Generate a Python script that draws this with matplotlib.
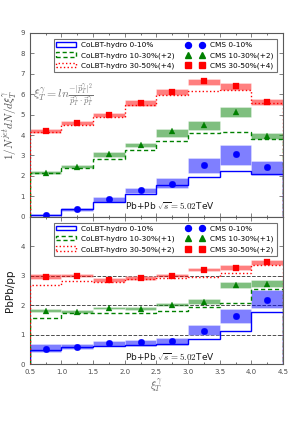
import numpy as np
import matplotlib
matplotlib.use("Agg")
import matplotlib.pyplot as plt
from matplotlib.lines import Line2D
from matplotlib.patches import Patch

plt.rcParams["mathtext.fontset"] = "cm"

edges = np.arange(0.5, 4.51, 0.5)
centers = 0.5 * (edges[:-1] + edges[1:])

# top panel: 1/N dN/dxi (offsets already added)
top_cms_0010 = [0.10, 0.36, 0.85, 1.30, 1.62, 2.55, 3.05, 2.42]
top_cms_0010_lo = [0.05, 0.30, 0.72, 1.15, 1.42, 2.16, 2.55, 2.06]
top_cms_0010_hi = [0.15, 0.42, 0.97, 1.43, 1.90, 2.90, 3.53, 2.74]
top_cms_1030 = [2.15, 2.45, 3.05, 3.50, 4.20, 4.50, 5.15, 3.95]
top_cms_1030_lo = [2.08, 2.38, 2.95, 3.40, 3.92, 4.25, 4.90, 3.80]
top_cms_1030_hi = [2.22, 2.52, 3.15, 3.60, 4.31, 4.70, 5.39, 4.10]
top_cms_3050 = [4.20, 4.60, 4.98, 5.55, 6.10, 6.65, 6.40, 5.60]
top_cms_3050_lo = [4.12, 4.50, 4.88, 5.42, 5.95, 6.47, 6.20, 5.48]
top_cms_3050_hi = [4.28, 4.70, 5.08, 5.70, 6.25, 6.76, 6.55, 5.75]
top_colbt_0010 = [0.10, 0.38, 0.72, 1.10, 1.55, 1.95, 2.25, 2.08]
top_colbt_1030 = [2.15, 2.40, 2.85, 3.25, 3.70, 4.10, 4.15, 3.80]
top_colbt_3050 = [4.15, 4.50, 4.90, 5.45, 5.95, 6.15, 6.20, 5.55]

# bottom panel: PbPb/pp ratio (offsets already added)
bot_cms_0010 = [0.53, 0.58, 0.73, 0.75, 0.77, 1.13, 1.63, 2.18]
bot_cms_0010_lo = [0.42, 0.50, 0.62, 0.62, 0.65, 0.98, 1.40, 1.92]
bot_cms_0010_hi = [0.67, 0.68, 0.80, 0.82, 0.88, 1.32, 1.87, 2.50]
bot_cms_1030 = [1.82, 1.78, 1.90, 1.88, 2.02, 2.10, 2.68, 2.72]
bot_cms_1030_lo = [1.76, 1.73, 1.87, 1.84, 1.98, 2.05, 2.60, 2.63]
bot_cms_1030_hi = [1.88, 1.85, 1.95, 1.94, 2.07, 2.20, 2.80, 2.87]
bot_cms_3050 = [2.95, 3.00, 2.85, 2.92, 3.00, 3.20, 3.27, 3.45]
bot_cms_3050_lo = [2.88, 2.95, 2.78, 2.87, 2.95, 3.17, 3.20, 3.38]
bot_cms_3050_hi = [3.05, 3.05, 2.92, 2.98, 3.05, 3.25, 3.35, 3.55]
bot_colbt_0010 = [0.47, 0.57, 0.60, 0.65, 0.70, 0.86, 1.12, 1.78]
bot_colbt_1030 = [1.58, 1.72, 1.72, 1.75, 1.80, 1.93, 2.07, 2.55]
bot_colbt_3050 = [2.70, 2.82, 2.78, 2.88, 2.92, 2.95, 3.10, 3.35]

blue, green, red = "#0000ff", "#008000", "#ff0000"
fs = 5
lfs = 5.3

fig = plt.figure(figsize=(2.98, 4.21), dpi=100)
ax1 = fig.add_axes([0.10, 0.485, 0.85, 0.437])
ax2 = fig.add_axes([0.10, 0.135, 0.85, 0.35])


def band(ax, lo, hi, color):
    lo = np.array(lo)
    hi = np.array(hi)
    ax.bar(centers, hi - lo, width=0.5, bottom=lo, color=color, alpha=0.5,
           edgecolor="white", linewidth=0.4, zorder=2)


def draw(ax, cms, colbt, labs_m, labs_c):
    styles = [(blue, "-", 1.0), (green, (0, (3, 2)), 1.0), (red, ":", 1.0)]
    markers = [("o", 4.8), ("^", 4.8), ("s", 4.6)]
    for (vals, lo, hi), col in zip(cms, [blue, green, red]):
        band(ax, lo, hi, col)
    handles_c = []
    for vals, (col, ls, lw), lab in zip(colbt, styles, labs_c):
        ax.stairs(vals, edges, baseline=0, color=col, linestyle=ls,
                  linewidth=lw, zorder=3)
        handles_c.append(Patch(facecolor="none", edgecolor=col, linestyle=ls,
                               linewidth=lw, label=lab))
    handles_m = []
    for (vals, lo, hi), col, (mk, ms), lab in zip(cms, [blue, green, red], markers, labs_m):
        ax.plot(centers, vals, linestyle="none", marker=mk, markersize=ms,
                color=col, markeredgewidth=0.2, markeredgecolor=col, zorder=4)
        handles_m.append(Line2D([], [], linestyle="none", marker=mk, markersize=ms - 0.5,
                                color=col, label=lab))
    leg = ax.legend(handles_c + handles_m, labs_c + labs_m, ncol=2, fontsize=lfs,
                    loc="upper right", numpoints=2, frameon=True, fancybox=False,
                    handlelength=2.6, handleheight=0.55, borderpad=0.4,
                    labelspacing=0.55, columnspacing=1.4, handletextpad=0.8,
                    bbox_to_anchor=(0.99, 0.985))
    leg.get_frame().set_edgecolor("0.3")
    leg.get_frame().set_linewidth(0.8)
    ax.set_xlim(0.5, 4.5)
    ax.set_xticks(np.arange(0.5, 4.51, 0.5))
    ax.tick_params(direction="in", labelsize=fs, colors="0.3", length=3, width=0.5,
                   top=True, right=True)
    ax.tick_params(which="minor", direction="in", length=1.5, width=0.4,
                   top=True, right=True)
    ax.set_xticks(np.arange(0.5, 4.51, 0.25), minor=True)
    for s in ax.spines.values():
        s.set_color("0.35")
        s.set_linewidth(0.8)


draw(ax1,
     [(top_cms_0010, top_cms_0010_lo, top_cms_0010_hi),
      (top_cms_1030, top_cms_1030_lo, top_cms_1030_hi),
      (top_cms_3050, top_cms_3050_lo, top_cms_3050_hi)],
     [top_colbt_0010, top_colbt_1030, top_colbt_3050],
     ["CMS 0-10%", "CMS 10-30%(+2)", "CMS 30-50%(+4)"],
     ["CoLBT-hydro 0-10%", "CoLBT-hydro 10-30%(+2)", "CoLBT-hydro 30-50%(+4)"])
ax1.set_ylim(0, 9)
ax1.set_yticks(range(0, 10))
ax1.tick_params(labelbottom=False)
ax1.set_ylabel(r"$1/N^{jet}dN/d\xi_T^\gamma$", fontsize=8, color="0.3", labelpad=1)
ax1.text(0.55, 5.95, r"$\xi_T^\gamma = ln\frac{-|\vec{p}_T^\gamma|^2}{\vec{p}_T^\gamma\cdot\vec{p}_T^{\gamma}}$",
         fontsize=8.5, color="0.45", va="center")
ax1.text(2.0, 0.35, r"Pb+Pb $\sqrt{s}=5.02$TeV", fontsize=6.5, color="0.1")

draw(ax2,
     [(bot_cms_0010, bot_cms_0010_lo, bot_cms_0010_hi),
      (bot_cms_1030, bot_cms_1030_lo, bot_cms_1030_hi),
      (bot_cms_3050, bot_cms_3050_lo, bot_cms_3050_hi)],
     [bot_colbt_0010, bot_colbt_1030, bot_colbt_3050],
     ["CMS 0-10%", "CMS 10-30%(+1)", "CMS 30-50%(+2)"],
     ["CoLBT-hydro 0-10%", "CoLBT-hydro 10-30%(+1)", "CoLBT-hydro 30-50%(+2)"])
for yv in [1, 2, 3]:
    ax2.axhline(yv, color="0.3", linestyle="--", linewidth=0.7, zorder=1)
ax2.set_ylim(0, 5)
ax2.set_yticks(range(0, 5))
ax2.set_ylabel("PbPb/pp", fontsize=7.5, color="0.1", labelpad=4)
ax2.set_xlabel(r"$\xi_T^\gamma$", fontsize=8, color="0.4", labelpad=2)
ax2.text(2.0, 0.1, r"Pb+Pb $\sqrt{s}=5.02$TeV", fontsize=6.5, color="0.1")

fig.savefig("out.png", dpi=100)
